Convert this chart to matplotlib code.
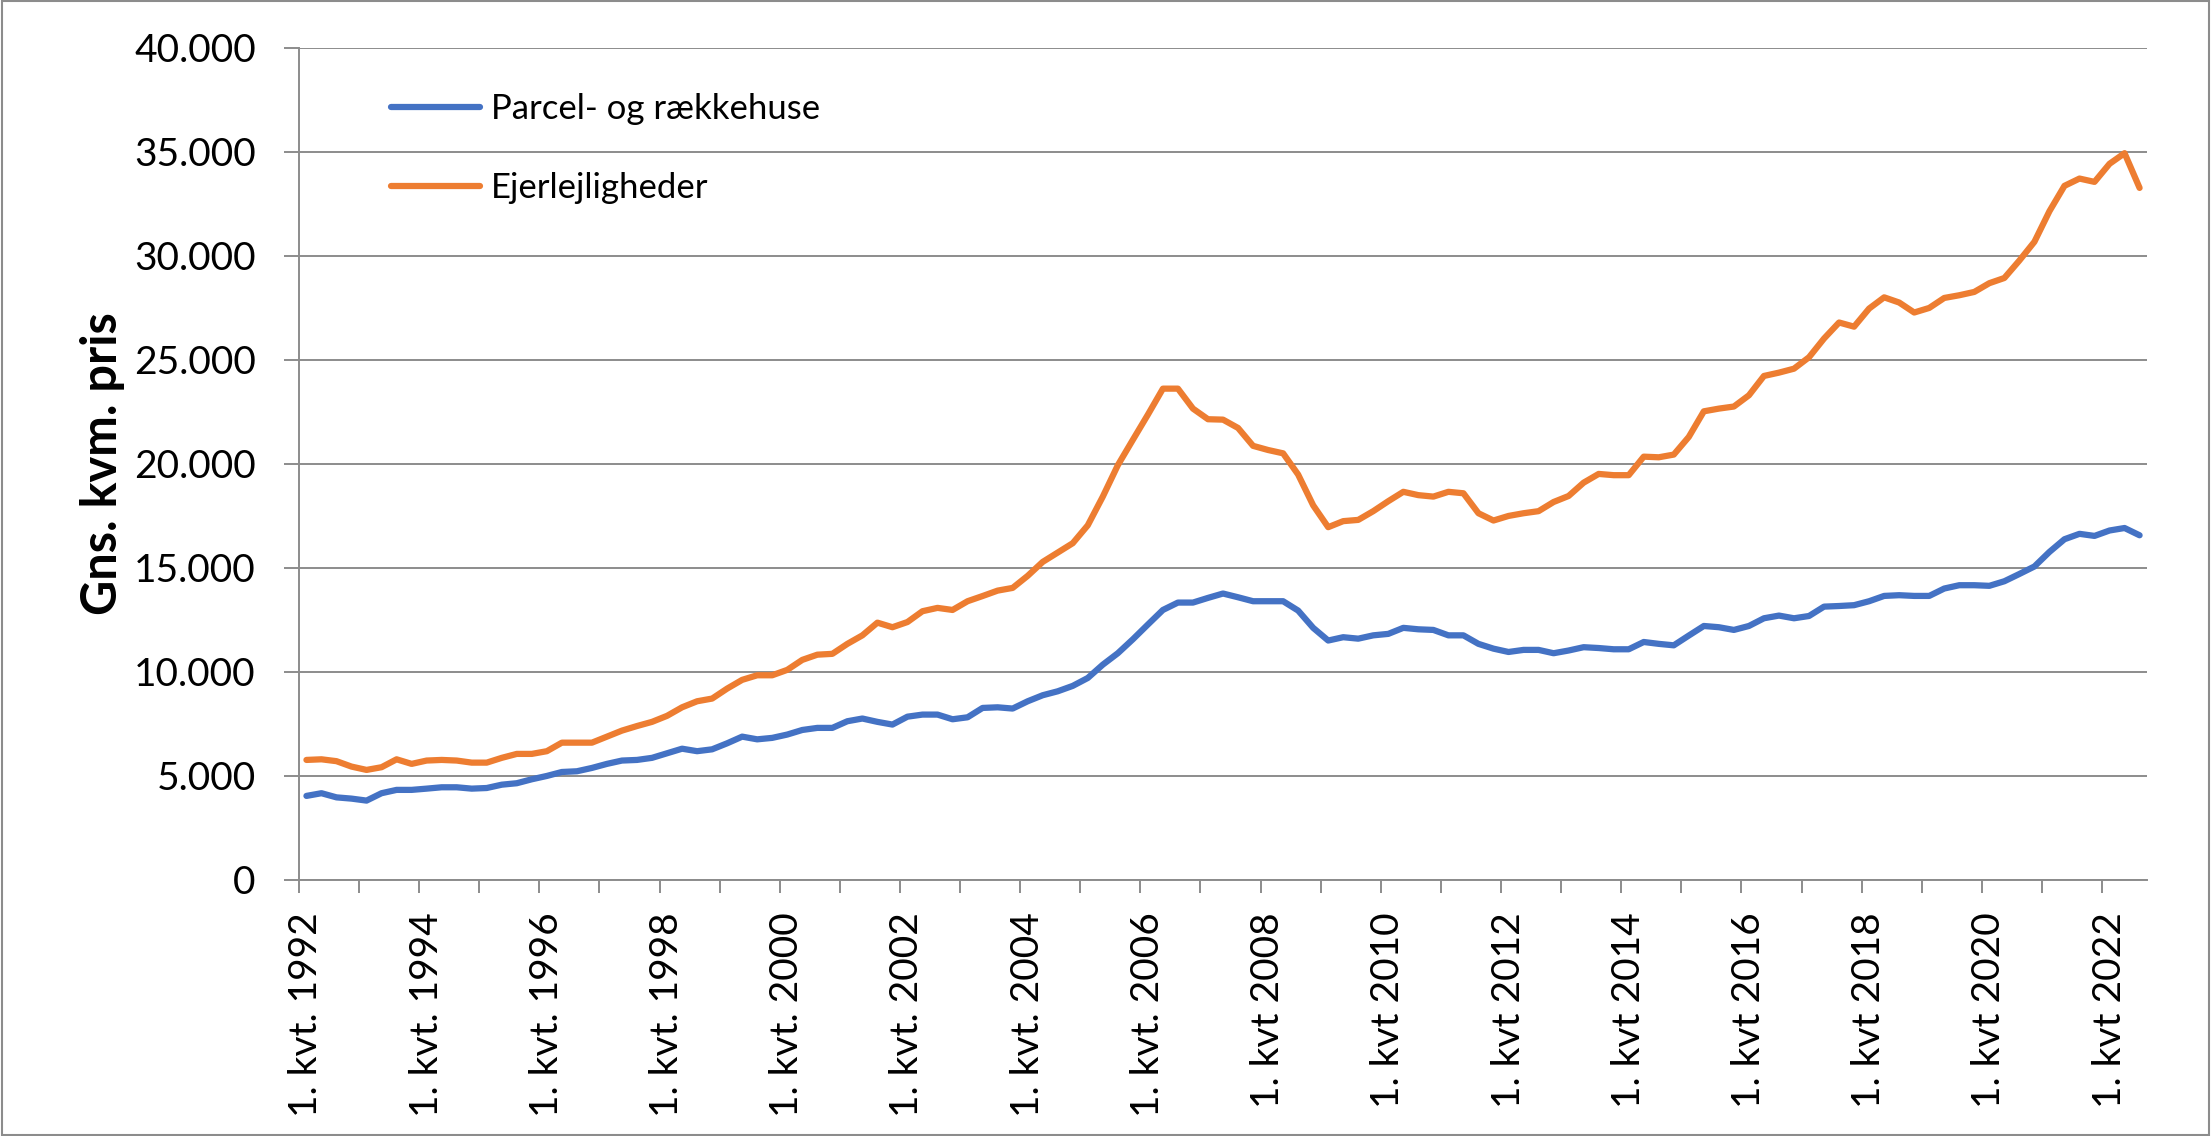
import numpy as np
import matplotlib
matplotlib.use("Agg")
import matplotlib.pyplot as plt
from matplotlib.patches import Rectangle
from matplotlib.ticker import FuncFormatter

plt.rcParams['font.family'] = ['Lato', 'DejaVu Sans']

# quarterly average price per m2, 1. kvt. 1992 - 3. kvt. 2022
parcel = [4040, 4170, 3970, 3910, 3815, 4170, 4330, 4330, 4390, 4455, 4455, 4390, 4420, 4580, 4650, 4840,
          5000, 5190, 5225, 5385, 5580, 5740, 5770, 5870, 6090, 6310, 6190, 6280, 6570, 6890, 6760,
          6830, 6990, 7210, 7310, 7310, 7630, 7760, 7600, 7470, 7850, 7950, 7950, 7725, 7820, 8270, 8300,
          8240, 8590, 8880, 9070, 9330, 9710, 10350, 10900, 11570, 12280, 12980, 13335, 13335, 13560, 13770,
          13590, 13400, 13400, 13400, 12950, 12120, 11510, 11670, 11600, 11760, 11830, 12120, 12050, 12020,
          11760, 11760, 11350, 11120, 10960, 11060, 11060, 10900, 11030, 11190, 11150, 11090, 11090, 11440,
          11350, 11280,
          11750, 12210, 12150, 12020, 12210, 12580, 12710, 12580, 12690, 13140, 13170, 13210, 13400, 13655,
          13690, 13655, 13655, 14010, 14170, 14170, 14140, 14360, 14710, 15070, 15770, 16380, 16640, 16540,
          16800, 16920, 16570]
ejer = [5770, 5800, 5710, 5450, 5290, 5420, 5800, 5580, 5740, 5770, 5740, 5640, 5640, 5870, 6060, 6060,
        6190, 6600, 6600, 6600, 6890, 7180, 7400, 7600, 7890, 8300, 8590, 8720, 9200, 9620, 9840,
        9840, 10100, 10580, 10830, 10870, 11350, 11760, 12370, 12150, 12400, 12920, 13080, 12980, 13400, 13650,
        13910, 14040, 14620, 15290, 15740, 16190, 17050, 18430, 19940, 21160, 22370, 23620, 23620, 22660,
        22150, 22130,
        21730, 20870, 20670, 20510, 19490, 18010, 16960, 17250, 17310, 17730, 18210, 18660, 18500, 18430,
        18660, 18590, 17630, 17280, 17500, 17630, 17730, 18170, 18460, 19100, 19520, 19460, 19460, 20350,
        20320, 20450,
        21300, 22530, 22660, 22760, 23300, 24230, 24390, 24580, 25130, 26030, 26800, 26600, 27470, 28010,
        27760, 27280, 27500, 27980, 28110, 28270, 28690, 28940, 29780, 30680, 32150, 33370, 33720, 33560,
        34430, 34940, 33270]
years = list(range(1992, 2023, 2))
tick_labels = [("1. kvt. %d" if y <= 2006 else "1. kvt %d") % y for y in years]

gray = '#8c8c8c'

fig = plt.figure(figsize=(22.11, 11.36), dpi=100)
ax = fig.add_axes([0.1352, 0.2254, 0.8359, 0.7324])

x = np.arange(len(parcel))
ax.plot(x, parcel, color='#4472C4', lw=4.5, solid_joinstyle='round', solid_capstyle='round',
        label='Parcel- og rækkehuse')
ax.plot(x, ejer, color='#ED7D31', lw=4.5, solid_joinstyle='round', solid_capstyle='round',
        label='Ejerlejligheder')

ax.set_xlim(-0.5, len(x) - 0.5)
ax.set_ylim(0, 40000)
ax.set_yticks(range(0, 40001, 5000))
ax.yaxis.set_major_formatter(FuncFormatter(lambda v, p: f"{int(v):,}".replace(",", ".")))
ax.grid(axis='y', color=gray, lw=1.4)
ax.set_axisbelow(True)
for s in ['top', 'right']:
    ax.spines[s].set_visible(False)
for s in ['left', 'bottom']:
    ax.spines[s].set_color(gray)
    ax.spines[s].set_linewidth(1.4)

ax.set_xticks(x[::8])
ax.set_xticklabels(tick_labels, rotation=90)
ax.set_xticks(np.arange(-0.5, len(x), 4), minor=True)
ax.tick_params(axis='x', which='major', length=0, pad=23, labelsize=28)
ax.tick_params(axis='x', which='minor', length=9, width=1.4, color=gray)
ax.tick_params(axis='y', length=11, width=1.4, color=gray, pad=20, labelsize=28)

ax.set_ylabel('Gns. kvm. pris', fontsize=35, fontweight='bold')
ax.yaxis.set_label_coords(-0.094, 0.5)

ax.legend(loc='upper left', bbox_to_anchor=(0.05, 0.946), frameon=False, fontsize=25,
          handlelength=2.56, handletextpad=0.3, labelspacing=1.36, borderpad=0, borderaxespad=0)

fig.patches.append(Rectangle((0.0008, 0.0012), 0.9984, 0.9976, transform=fig.transFigure,
                             fill=False, ec=gray, lw=1.5))

fig.savefig('out.png', dpi=100)
